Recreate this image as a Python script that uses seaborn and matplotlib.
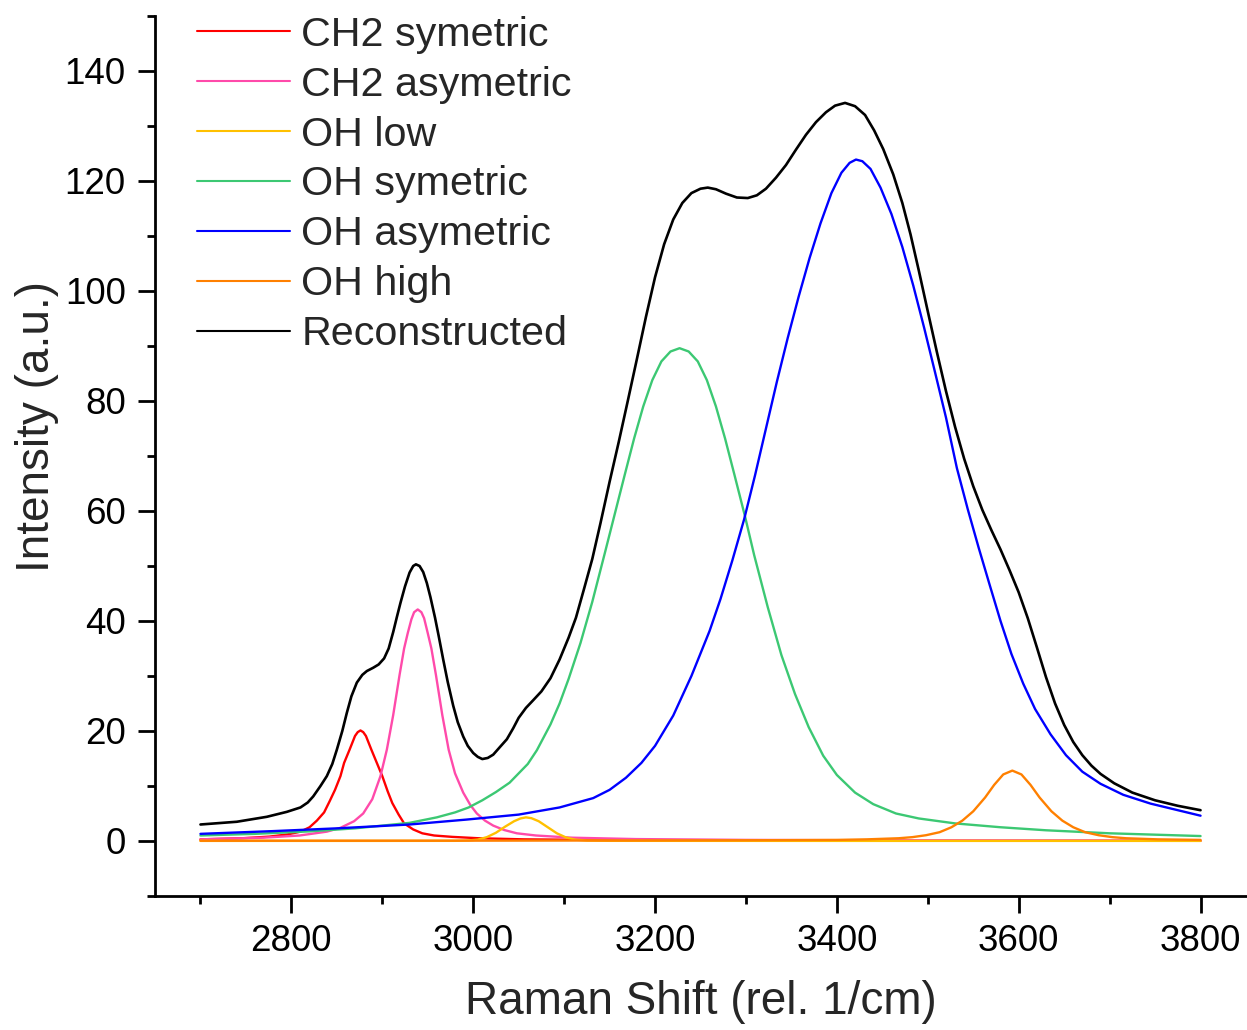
import matplotlib
matplotlib.use("Agg")
import matplotlib.pyplot as plt
from matplotlib.lines import Line2D
from matplotlib.ticker import MultipleLocator
import pandas as pd
import seaborn as sns

# Raman shift (rel. 1/cm) and intensity (a.u.) of each fitted band
ch2_sym_x = [2700, 2746, 2776, 2796, 2810, 2820, 2828, 2836, 2842, 2848, 2854, 2858, 2864, 2870,
             2873, 2876, 2879, 2882, 2888, 2894, 2900, 2906, 2911, 2918, 2924, 2934, 2944, 2957,
             2977, 3006, 3056, 3150, 3300, 3500, 3800]
ch2_sym_y = [0.3, 0.5, 0.8, 1.2, 1.7, 2.5, 3.7, 5.2, 7.2, 9.3, 11.8, 14.2, 16.6, 19.1,
             19.8, 20.1, 19.8, 19.1, 16.6, 14.2, 11.8, 9.0, 6.9, 4.8, 3.2, 2.1, 1.4, 1.0,
             0.75, 0.5, 0.3, 0.18, 0.1, 0.05, 0.03]

ch2_asym_x = [2700, 2769, 2809, 2839, 2854, 2869, 2879, 2889, 2898, 2905, 2912, 2919, 2924, 2928,
              2932, 2935, 2939, 2943, 2946, 2950, 2954, 2959, 2966, 2973, 2980, 2989, 2997, 3004,
              3013, 3022, 3034, 3048, 3069, 3109, 3179, 3300, 3500, 3800]
ch2_asym_y = [0.3, 0.6, 1.0, 1.7, 2.4, 3.6, 5.0, 7.6, 11.8, 16.6, 22.9, 30.2, 35.0, 37.8,
              40.3, 41.6, 42.1, 41.6, 40.5, 37.8, 35.0, 30.2, 22.9, 16.6, 12.3, 8.8, 6.5, 5.0,
              3.7, 2.8, 2.0, 1.4, 1.0, 0.6, 0.35, 0.2, 0.1, 0.05]

oh_low_x = [2700, 2900, 2980, 2995, 3005, 3015, 3025, 3035, 3045, 3052, 3058, 3064, 3072, 3082,
            3092, 3102, 3112, 3125, 3150, 3400, 3800]
oh_low_y = [0.02, 0.02, 0.03, 0.1, 0.25, 0.7, 1.5, 2.6, 3.6, 4.1, 4.3, 4.15, 3.6, 2.5,
            1.4, 0.65, 0.25, 0.08, 0.03, 0.02, 0.02]

oh_sym_x = [2700, 2760, 2820, 2870, 2930, 2960, 2980, 2995, 3010, 3025, 3040, 3050, 3060, 3070,
            3085, 3095, 3105, 3118, 3131, 3145, 3155, 3167, 3177, 3187, 3197, 3207, 3217, 3227,
            3237, 3247, 3257, 3267, 3277, 3287, 3299, 3309, 3324, 3339, 3354, 3369, 3385, 3400,
            3420, 3440, 3465, 3490, 3530, 3580, 3630, 3700, 3760, 3800]
oh_sym_y = [1.0, 1.3, 1.75, 2.3, 3.3, 4.3, 5.2, 6.1, 7.4, 8.9, 10.6, 12.3, 14.0, 16.5,
            21.2, 25.0, 29.5, 36.0, 43.5, 52.5, 59.0, 66.8, 73.2, 79.0, 83.8, 87.2, 89.0, 89.6,
            89.0, 87.2, 83.8, 79.0, 73.2, 66.8, 59.0, 52.0, 42.5, 33.8, 26.7, 20.7, 15.5, 12.0,
            8.8, 6.7, 5.0, 4.1, 3.2, 2.5, 1.95, 1.4, 1.1, 0.9]

oh_asym_x = [2700, 2780, 2850, 2930, 2993, 3050, 3095, 3132, 3150, 3168, 3185, 3200, 3220, 3240,
             3260, 3272, 3285, 3298, 3310, 3322, 3334, 3346, 3358, 3370, 3382, 3394, 3405, 3414,
             3421, 3428, 3437, 3448, 3460, 3472, 3484, 3496, 3508, 3520, 3532, 3544, 3556, 3568,
             3580, 3592, 3605, 3618, 3635, 3652, 3670, 3690, 3715, 3745, 3775, 3800]
oh_asym_y = [1.3, 1.8, 2.3, 3.0, 3.9, 4.8, 6.1, 7.8, 9.3, 11.5, 14.2, 17.3, 22.8, 30.0,
             38.2, 44.0, 51.0, 58.5, 66.5, 75.0, 83.5, 91.5, 99.0, 106.0, 112.3, 117.8, 121.5, 123.3,
             123.9, 123.6, 122.2, 118.8, 114.0, 108.0, 101.0, 93.3, 85.2, 77.0, 67.8, 60.3, 53.3, 46.6,
             40.0, 34.0, 28.6, 24.0, 19.4, 15.6, 12.6, 10.4, 8.4, 6.8, 5.6, 4.6]

oh_high_x = [2700, 3000, 3200, 3300, 3400, 3433, 3468, 3483, 3498, 3513, 3526, 3538, 3550, 3563,
             3573, 3583, 3593, 3603, 3613, 3623, 3636, 3648, 3660, 3673, 3688, 3703, 3718, 3753,
             3800]
oh_high_y = [0.05, 0.06, 0.1, 0.13, 0.2, 0.3, 0.5, 0.7, 1.05, 1.6, 2.5, 3.7, 5.4, 7.9,
             10.2, 12.1, 12.8, 12.1, 10.2, 7.9, 5.4, 3.7, 2.5, 1.6, 1.05, 0.7, 0.5, 0.3,
             0.2]

recon_x = [2700, 2740, 2773, 2795, 2810, 2818, 2824, 2832, 2839, 2845,
           2850, 2856, 2861, 2866, 2872, 2878, 2883, 2890, 2896, 2902,
           2907, 2912, 2916, 2920, 2925, 2930, 2934, 2937, 2941, 2945,
           2949, 2953, 2958, 2962, 2967, 2972, 2978, 2983, 2989, 2994,
           3000, 3005, 3010, 3016, 3022, 3030, 3037, 3044, 3050, 3058,
           3066, 3075, 3085, 3095, 3105, 3113, 3122, 3131, 3140, 3150,
           3160, 3170, 3180, 3190, 3200, 3210, 3220, 3230, 3240, 3250,
           3258, 3267, 3278, 3290, 3302, 3312, 3322, 3333, 3344, 3355,
           3366, 3377, 3388, 3398, 3409, 3420, 3431, 3441, 3451, 3462,
           3472, 3481, 3490, 3500, 3510, 3520, 3530, 3540, 3550, 3560,
           3570, 3580, 3590, 3600, 3610, 3620, 3630, 3640, 3650, 3660,
           3670, 3680, 3690, 3705, 3725, 3750, 3775, 3800]
recon_y = [3.0, 3.5, 4.4, 5.3, 6.1, 7.0, 8.1, 10.0, 11.8, 14.0,
           16.6, 20.0, 23.3, 26.3, 28.8, 30.2, 30.9, 31.5, 32.1, 33.2,
           35.0, 38.0, 40.7, 43.3, 46.3, 48.8, 50.0, 50.3, 50.0, 48.9,
           46.9, 44.3, 40.6, 37.3, 33.0, 28.9, 24.6, 21.6, 19.0, 17.3,
           16.0, 15.3, 14.9, 15.1, 15.7, 17.2, 18.5, 20.5, 22.4, 24.2,
           25.6, 27.2, 29.6, 33.0, 37.0, 40.6, 45.9, 51.3, 57.8, 65.3,
           72.5, 80.0, 87.6, 95.3, 102.5, 108.5, 113.0, 116.0, 117.8, 118.6,
           118.8, 118.5, 117.7, 117.0, 116.9, 117.4, 118.6, 120.6, 122.9, 125.7,
           128.4, 130.7, 132.5, 133.7, 134.2, 133.6, 132.0, 129.2, 125.8, 121.2,
           116.0, 110.3, 103.8, 96.3, 88.9, 81.8, 75.3, 69.5, 64.5, 60.2,
           56.5, 53.0, 49.2, 45.2, 40.5, 35.2, 29.8, 25.0, 21.1, 18.0,
           15.6, 13.7, 12.2, 10.5, 8.8, 7.4, 6.4, 5.6]

labels = ["CH2 symetric", "CH2 asymetric", "OH low", "OH symetric",
          "OH asymetric", "OH high", "Reconstructed"]
colors = ["#FF0000", "#FF4AAA", "#FFC000", "#3CC873", "#0000FF", "#FF8000", "#000000"]
xs = [ch2_sym_x, ch2_asym_x, oh_low_x, oh_sym_x, oh_asym_x, oh_high_x, recon_x]
ys = [ch2_sym_y, ch2_asym_y, oh_low_y, oh_sym_y, oh_asym_y, oh_high_y, recon_y]

df = pd.concat(
    [pd.DataFrame({"shift": x, "intensity": y, "band": name})
     for name, x, y in zip(labels, xs, ys)],
    ignore_index=True,
)
palette = dict(zip(labels, colors))

sns.set_style("ticks")
plt.rcParams["font.family"] = ["Liberation Sans", "DejaVu Sans"]

W, H = 1247, 1030
fig = plt.figure(figsize=(W / 100, H / 100), dpi=100)
ax = fig.add_axes([155 / W, 134 / H, 1091 / W, 880 / H])

sns.lineplot(data=df, x="shift", y="intensity", hue="band", hue_order=labels,
             palette=palette, estimator=None, sort=False, linewidth=1.7,
             legend=False, ax=ax)
for line in ax.lines:
    line.set_solid_joinstyle("round")
ax.lines[-1].set_linewidth(1.9)

ax.set_xlim(2650, 3850)
ax.set_ylim(-10, 150)
ax.xaxis.set_major_locator(MultipleLocator(200))
ax.xaxis.set_minor_locator(MultipleLocator(100))
ax.yaxis.set_major_locator(MultipleLocator(20))
ax.yaxis.set_minor_locator(MultipleLocator(10))

for side in ("top", "right"):
    ax.spines[side].set_visible(False)
for side in ("left", "bottom"):
    ax.spines[side].set_linewidth(2)
    ax.spines[side].set_color("black")

ax.tick_params(axis="both", which="major", direction="out", length=12, width=2,
               labelsize=26.5, color="black", labelcolor="black")
ax.tick_params(axis="both", which="minor", direction="out", length=6, width=2, color="black")
ax.tick_params(axis="x", which="major", pad=8)
ax.tick_params(axis="y", which="major", pad=9)

ax.set_xlabel("Raman Shift (rel. 1/cm)", fontsize=33)
ax.set_ylabel("Intensity (a.u.)", fontsize=33)
ax.xaxis.set_label_coords(0.5, -0.095)
ax.yaxis.set_label_coords(-0.088, 0.533)

handles = [Line2D([0], [0], color=c, linewidth=1.5) for c in colors]
ax.legend(handles, labels, loc="upper left", bbox_to_anchor=(197 / W, 1 - 15.6 / H),
          bbox_transform=fig.transFigure, frameon=False, fontsize=29.7,
          handlelength=2.25, handletextpad=0.28, labelspacing=0.29,
          borderpad=0, borderaxespad=0)

fig.savefig("out.png", dpi=100, facecolor="white")
